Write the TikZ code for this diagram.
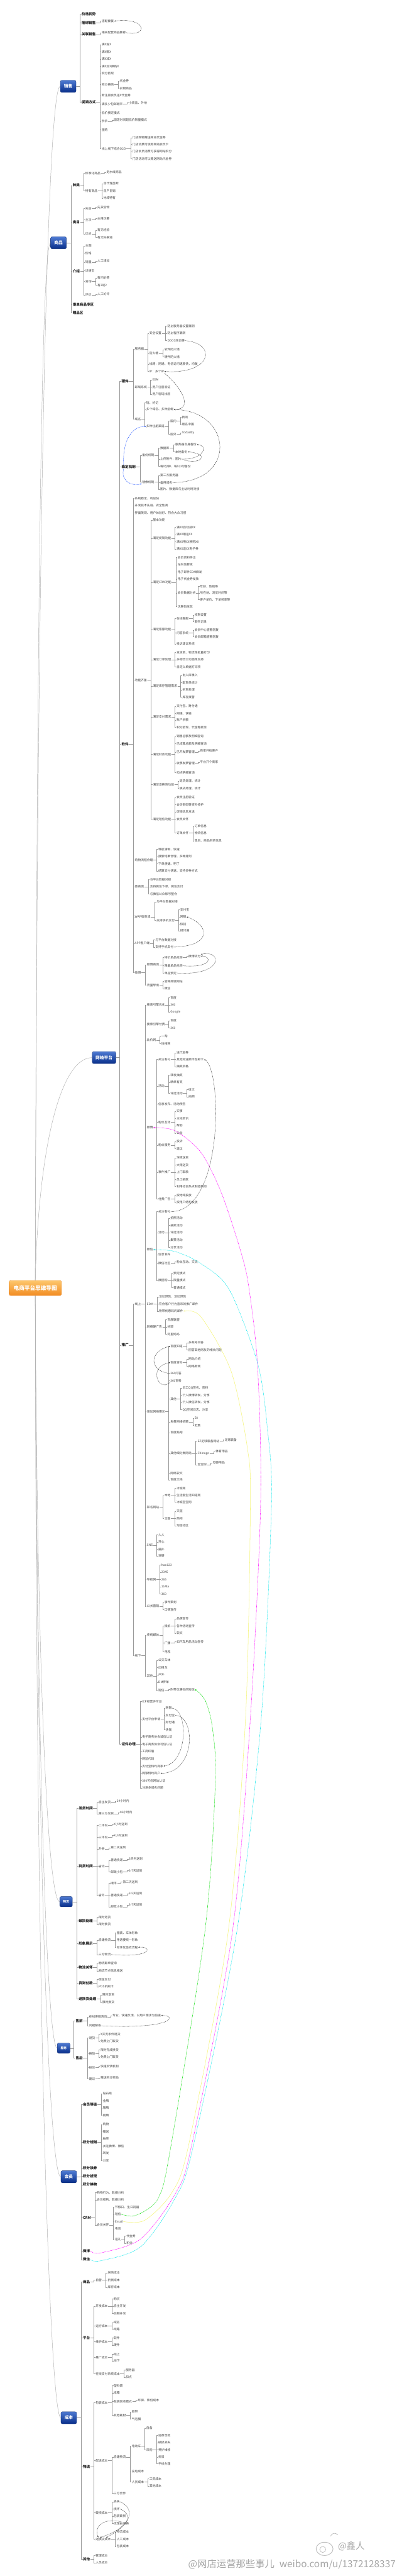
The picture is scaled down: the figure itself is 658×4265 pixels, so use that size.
\documentclass[tikz,border=0pt]{standalone}
\usepackage{fontspec}
\setmainfont{Noto Sans CJK SC}
\usetikzlibrary{arrows.meta}
\definecolor{tpA}{RGB}{78,122,210}
\definecolor{tpB}{RGB}{8,46,138}
\definecolor{tpC}{RGB}{22,52,120}
\definecolor{orA}{RGB}{253,198,108}
\definecolor{orB}{RGB}{242,140,34}
\definecolor{orC}{RGB}{230,130,30}
\definecolor{mgC}{RGB}{255,0,255}
\definecolor{cyC}{RGB}{0,230,235}
\definecolor{gnC}{RGB}{0,220,0}
\definecolor{ylC}{RGB}{245,245,120}
\definecolor{blC}{RGB}{40,90,255}
\newcommand\mmT[4]{\node[mt] (#1) at (#2,#3) {#4};}
\newcommand\mmB[4]{\node[mb] (#1) at (#2,#3) {#4};}
\newcommand\mmC[2]{\foreach \q in {#2}{\draw[ln] (#1.east) -| ([xshift=-2.5pt]\q.west) -- (\q.west);}}
\tikzset{
 mt/.style={anchor=west,inner sep=0.4pt,text=black!75,font=\fontsize{5}{5}\selectfont},
 mb/.style={anchor=west,inner sep=0.4pt,text=black!90,font=\fontsize{5.8}{5.8}\selectfont\bfseries},
 ln/.style={draw=black!40,line width=0.35pt},
 rl/.style={draw=black!30,line width=0.5pt},
 topic/.style={rounded corners=2.5pt,top color=tpA,bottom color=tpB,draw=tpC,line width=0.4pt,text=white,font=\fontsize{7}{7}\selectfont\bfseries,minimum width=26pt,minimum height=20pt,inner sep=1pt},
 stopic/.style={topic,minimum width=21pt,minimum height=17pt,font=\fontsize{5}{5}\selectfont\bfseries},
 rootbox/.style={rounded corners=3pt,top color=orA,bottom color=orB,draw=orC,line width=0.4pt,text=white,font=\fontsize{9}{9}\selectfont\bfseries,minimum width=87pt,minimum height=25pt,inner sep=1pt},
 dd/.style={draw=black!75,dash pattern=on 1.2pt off 0.8pt,line width=0.5pt,-{Stealth[length=2.6pt,width=2.2pt]}},
 bd/.style={dd,draw=blC},
 cd/.style={dash pattern=on 1.2pt off 0.8pt,line width=0.55pt,-{Stealth[length=2.8pt,width=2.4pt]}},
}
\begin{document}
\begin{tikzpicture}[x=1pt,y=-1pt]
\fill[white] (0,0) rectangle (658,4265);
\useasboundingbox (0,0) rectangle (658,4265);
% ---------- root and topics ----------
\node[rootbox] (root) at (58.5,2132.5) {电商平台思维导图};
\node[topic] (xs) at (113,143) {销售};
\node[topic] (xg) at (97,402) {商品};
\node[topic,minimum width=39pt] (xn) at (172.5,1751) {网络平台};
\node[stopic] (xw) at (109.5,3148.5) {物流};
\node[stopic] (xv) at (105.5,3391) {服务};
\node[topic] (xh) at (114,3604) {会员};
\node[topic] (xc) at (114,4003) {成本};
% ---------- 销售 ----------
\mmB{s1}{135}{23}{价格优势}
\mmB{s2}{135}{38}{捆绑销售}
\mmB{s3}{135}{57}{关联销售}
\mmB{s4}{135}{169}{促销方式}
\mmT{s21}{168}{35}{搭配套餐}
\mmT{s31}{168}{54}{相关配套商品推荐}
\mmT{s41}{168}{74}{满X返X}
\mmT{s42}{168}{86}{满X赠X}
\mmT{s43}{168}{98}{满X减X}
\mmT{s44}{168}{110}{满X加X换购X}
\mmT{s45}{168}{122}{积分抵现}
\mmT{s46}{168}{140}{积分换购}
\mmT{s461}{198}{134}{代金券}
\mmT{s462}{198}{146}{实物商品}
\mmT{s47}{168}{158}{新注册会员送X代金券}
\mmT{s48}{168}{172}{满多少包邮顺丰}
\mmT{s481}{213}{170}{小商品、外地}
\mmT{s49}{168}{187}{低价预定模式}
\mmT{s4a}{168}{201}{秒杀}
\mmT{s4a1}{188}{199}{固定时间超低价限量模式}
\mmT{s4b}{168}{215}{团购}
\mmT{s4c}{168}{246}{线上线下结合O2O}
\mmT{s4c1}{219}{228}{门店购物赠送网站代金券}
\mmT{s4c2}{219}{239}{门店消费可使用网站会员卡}
\mmT{s4c3}{219}{251}{门店会员消费可获得网站积分}
\mmT{s4c4}{219}{263}{门店活动可以赠送网站代金券}
% ---------- 商品 ----------
\mmB{g1}{120}{307}{种类}
\mmB{g2}{120}{368}{类目}
\mmB{g3}{120}{449}{介绍}
\mmB{g4}{120}{504}{凑单商品专区}
\mmB{g5}{120}{518}{赠品区}
\mmT{g11}{141}{287}{标准化商品}
\mmT{g111}{176}{285}{走水线商品}
\mmT{g12}{141}{316}{特有商品}
\mmT{g121}{171}{304}{自代理垄断}
\mmT{g122}{171}{316}{自产自销}
\mmT{g123}{171}{328}{地域特有}
\mmT{g21}{141}{345}{先后}
\mmT{g211}{161}{343}{先货后物}
\mmT{g22}{141}{364}{主次}
\mmT{g221}{161}{362}{主推次要}
\mmT{g23}{141}{387}{优劣}
\mmT{g231}{161}{381}{有无经验}
\mmT{g232}{161}{393}{有无好渠道}
\mmT{g31}{141}{407}{主图}
\mmT{g32}{141}{419}{价格}
\mmT{g33}{141}{434}{销量}
\mmT{g331}{161}{432}{人工增加}
\mmT{g34}{141}{448}{详情页}
\mmT{g35}{141}{466}{咨询}
\mmT{g351}{161}{460}{有问必答}
\mmT{g352}{161}{472}{有2说2}
\mmT{g36}{141}{488}{评价}
\mmT{g361}{161}{487}{人工好评}
% ---------- 网络平台 ----------
\mmB{n1}{201}{631}{硬件}
\mmB{n2}{201}{773}{稳定机制}
\mmB{n3}{201}{1232}{软件}
\mmB{n4}{201}{2227}{推广}
\mmB{n5}{201}{2888}{证件办理}
\mmT{n11}{223}{578}{服务器}
\mmT{n12}{223}{641}{邮局系统}
\mmT{n13}{223}{694}{域名}
\mmT{n111}{247}{552}{安全设置}
\mmT{n1111}{277}{540}{防止服务器设置漏洞}
\mmT{n1112}{277}{552}{防止程序漏洞}
\mmT{n1113}{277}{564}{DDOS攻击等}
\mmT{n112}{247}{585}{防火墙}
\mmT{n1121}{272}{579}{软件防火墙}
\mmT{n1122}{272}{591}{硬件防火墙}
\mmT{n113}{247}{603}{线路：网通、电信访问速度快，均衡}
\mmT{n114}{247}{615}{IP：多个IP}
\mmT{n121}{252}{629}{EDM}
\mmT{n122}{252}{641}{用户注册验证}
\mmT{n123}{252}{653}{用户密码找回}
\mmT{n131}{242}{667}{短、好记}
\mmT{n132}{242}{678}{多个域名、多种后缀}
\mmT{n133}{242}{706}{多种注册渠道}
\mmT{n1331}{282}{697}{国内}
\mmT{n13311}{301}{691}{新网}
\mmT{n13312}{301}{703}{易名中国}
\mmT{n1332}{282}{719}{国外}
\mmT{n13321}{301}{717}{Todaddy}
\mmT{n21}{235}{754}{备份机制}
\mmT{n22}{235}{798}{镜像机制}
\mmT{n211}{265}{742}{数据库}
\mmT{n2111}{290}{736}{服务器自身备份}
\mmT{n2112}{290}{748}{本地备份}
\mmT{n212}{265}{760}{上传附件：图片}
\mmT{n213}{265}{772}{每X分钟、每X小时备份}
\mmT{n221}{265}{787}{第三方服务器}
\mmT{n222}{265}{799}{备用域名}
\mmT{n223}{265}{810}{图片、数据库与主站时时对接}
\mmT{n31}{223}{825}{系统稳定、响应快}
\mmT{n32}{223}{837}{开发技术先进、安全性高}
\mmT{n33}{223}{849}{界面美观、用户体验好、符合大众习惯}
\mmT{n34}{223}{1126}{功能齐备}
\mmT{n35}{223}{1424}{购物流程合理}
\mmT{n36}{223}{1468}{微商城}
\mmT{n37}{223}{1518}{WAP版商城}
\mmT{n38}{223}{1562}{APP客户端}
\mmT{n39}{223}{1610}{微博}
\mmT{f1}{253}{861}{基本功能}
\mmT{f2}{253}{891}{满足促销功能}
\mmT{f21}{292}{873}{满XX自动减XX}
\mmT{f22}{292}{885}{满XX赠送XX}
\mmT{f23}{292}{897}{满XX用XX换购XX}
\mmT{f24}{292}{909}{满XX送XX电子券}
\mmT{f3}{253}{964}{满足CRM功能}
\mmT{f31}{294}{923}{会员资料导出}
\mmT{f32}{294}{935}{站内信群发}
\mmT{f33}{294}{947}{电子邮件EDM群发}
\mmT{f34}{294}{959}{电子代金券发放}
\mmT{f35}{294}{982}{会员数据分析}
\mmT{f351}{331}{971}{年龄、性别等}
\mmT{f352}{331}{982}{所在地、浏览时间等}
\mmT{f353}{331}{993}{客户单价、下单频率等}
\mmT{f36}{294}{1004}{优惠码发放}
\mmT{f4}{253}{1042}{满足客服功能}
\mmT{f41}{292}{1024}{在线客服}
\mmT{f411}{322}{1018}{权限设置}
\mmT{f412}{322}{1029}{聊天记录}
\mmT{f42}{292}{1048}{问答系统}
\mmT{f421}{322}{1043}{会员中心查看回复}
\mmT{f422}{322}{1054}{会员邮箱查看回复}
\mmT{f43}{292}{1066}{投诉建议系统}
\mmT{f5}{253}{1092}{满足订单处理}
\mmT{f51}{292}{1080}{发货单、物流单批量打印}
\mmT{f52}{292}{1092}{多物流公司面单支持}
\mmT{f53}{292}{1104}{自定义单据打印项}
\mmT{f6}{253}{1136}{满足库存管理需求}
\mmT{f61}{302}{1118}{出入库录入}
\mmT{f62}{302}{1130}{配货单统计}
\mmT{f63}{302}{1142}{拆货处理}
\mmT{f64}{302}{1154}{库存报警}
\mmT{f7}{253}{1187}{满足支付需求}
\mmT{f71}{292}{1169}{支付宝、财付通}
\mmT{f72}{292}{1181}{网银、快钱}
\mmT{f73}{292}{1192}{账户余额}
\mmT{f74}{292}{1204}{积分抵现、代金券抵现}
\mmT{f8}{253}{1249}{满足财务功能}
\mmT{f81}{292}{1219}{销售总额及明细查询}
\mmT{f82}{292}{1231}{已结算总额及明细查询}
\mmT{f83}{292}{1245}{已开发票管理}
\mmT{f831}{331}{1243}{商家开给客户}
\mmT{f84}{292}{1264}{收票发票管理}
\mmT{f841}{331}{1262}{平台开个商家}
\mmT{f85}{292}{1279}{扣点明细查询}
\mmT{f9}{253}{1299}{满足退换货功能}
\mmT{f91}{297}{1293}{退货处理、统计}
\mmT{f92}{297}{1305}{换货处理、统计}
\mmT{fa}{253}{1356}{满足短信功能}
\mmT{fa1}{292}{1320}{会员注册验证}
\mmT{fa2}{292}{1332}{会员密码等资料修护}
\mmT{fa3}{292}{1344}{促销信息发送}
\mmT{fa4}{292}{1356}{会员关怀}
\mmT{fa5}{292}{1379}{订单关怀}
\mmT{fa51}{322}{1368}{订单信息}
\mmT{fa52}{322}{1379}{物流信息}
\mmT{fa53}{322}{1392}{售后、商品到货信息}
\mmT{n351}{262}{1406}{导航清晰、快速}
\mmT{n352}{262}{1418}{搜索结果合理、多种排列}
\mmT{n353}{262}{1430}{下单便捷、明了}
\mmT{n354}{262}{1442}{结算支付快速、支持多种方式}
\mmT{n361}{248}{1456}{与平台数据对接}
\mmT{n362}{248}{1468}{支持微信下单、微信支付}
\mmT{n363}{248}{1480}{与微信公众账号整合}
\mmT{n371}{259}{1493}{与平台数据对接}
\mmT{n372}{259}{1524}{支持手机支付}
\mmT{n3721}{298}{1506}{支付宝}
\mmT{n3722}{298}{1518}{网银}
\mmT{n3723}{298}{1530}{快钱}
\mmT{n3724}{298}{1541}{财付通}
\mmT{n381}{257}{1556}{与平台数据对接}
\mmT{n382}{257}{1568}{支持手机支付}
\mmT{n391}{243}{1597}{微博商城}
\mmT{n3911}{272}{1585}{特价单品抢购}
\mmT{n39111}{312}{1583}{微博支付}
\mmT{n3912}{272}{1599}{限量单品抢购}
\mmT{n3913}{272}{1611}{单品预定}
\mmT{n392}{243}{1631}{流量导出}
\mmT{n3921}{272}{1625}{官网商城网站}
\mmT{n3922}{272}{1637}{微信}
% 推广
\mmT{p1}{223}{2159}{线上}
\mmT{p2}{223}{2741}{线下}
\mmT{p11}{243}{1664}{搜索引擎优化}
\mmT{p111}{282}{1652}{百度}
\mmT{p112}{282}{1664}{360}
\mmT{p113}{282}{1676}{Google}
\mmT{p12}{243}{1696}{搜索引擎付费}
\mmT{p121}{282}{1690}{百度}
\mmT{p122}{282}{1702}{360}
\mmT{p13}{243}{1722}{比价网}
\mmT{p131}{267}{1716}{一淘}
\mmT{p132}{267}{1728}{快搜网}
\mmT{p14}{243}{1867}{微博}
\mmT{p141}{262}{1754}{关注有礼}
\mmT{p1411}{292}{1743}{送代金券}
\mmT{p1412}{292}{1754}{其他如送顺丰包邮卡}
\mmT{p1413}{292}{1766}{抽奖资格}
\mmT{p142}{262}{1798}{活动}
\mmT{p1421}{282}{1780}{转发抽奖}
\mmT{p1422}{282}{1792}{晒单有奖}
\mmT{p1423}{282}{1810}{评选活动}
\mmT{p14231}{312}{1804}{征文}
\mmT{p14232}{312}{1816}{拍照}
\mmT{p143}{262}{1828}{信息发布、活动预告}
\mmT{p144}{262}{1858}{粉丝互动}
\mmT{p1441}{292}{1840}{实事}
\mmT{p1442}{292}{1852}{本地资讯}
\mmT{p1443}{292}{1864}{帮助}
\mmT{p1444}{292}{1876}{公益}
\mmT{p145}{262}{1896}{粉丝服务}
\mmT{p1451}{292}{1890}{投诉}
\mmT{p1452}{292}{1902}{建议}
\mmT{p146}{262}{1941}{事件推广}
\mmT{p1461}{292}{1917}{深夜送货}
\mmT{p1462}{292}{1929}{大雨送货}
\mmT{p1463}{292}{1941}{上门取款}
\mmT{p1464}{292}{1953}{员工捐款}
\mmT{p1465}{292}{1964}{利用社会热点制造新闻}
\mmT{p147}{262}{1985}{付费广告}
\mmT{p1471}{292}{1979}{按地域投放}
\mmT{p1472}{292}{1991}{按用户结构投放}
\mmT{p15}{243}{2069}{微信}
\mmT{p151}{262}{2006}{关注有礼}
\mmT{p152}{262}{2041}{活动}
\mmT{p1521}{282}{2017}{拍照活动}
\mmT{p1522}{282}{2029}{抽奖活动}
\mmT{p1523}{282}{2041}{评选活动}
\mmT{p1524}{282}{2053}{集赞活动}
\mmT{p1525}{282}{2065}{分享活动}
\mmT{p153}{262}{2077}{信息发布}
\mmT{p154}{262}{2092}{微信社区}
\mmT{p1541}{292}{2089}{粉丝互动、交流}
\mmT{p155}{262}{2120}{微团购}
\mmT{p1551}{287}{2108}{预定模式}
\mmT{p1552}{287}{2120}{限量模式}
\mmT{p1553}{287}{2132}{普通模式}
\mmT{p16}{243}{2159}{EDM}
\mmT{p161}{263}{2147}{活动预告、活动预告}
\mmT{p162}{263}{2159}{符合客户行为喜欢的推广邮件}
\mmT{p163}{263}{2171}{附带优惠码的邮件}
\mmT{p17}{243}{2197}{网络硬广告}
\mmT{p171}{277}{2185}{百度联盟}
\mmT{p172}{277}{2197}{好耶}
\mmT{p173}{277}{2209}{阿里妈妈}
\mmT{p18}{243}{2337}{增加网络曝光}
\mmT{p181}{282}{2229}{百度知道}
\mmT{p1811}{312}{2223}{多账号问答}
\mmT{p1812}{312}{2235}{回答其他网友的相关问题}
\mmT{p182}{282}{2256}{百度百科}
\mmT{p1821}{312}{2250}{网站介绍}
\mmT{p1822}{312}{2262}{网络新闻}
\mmT{p183}{282}{2274}{360问答}
\mmT{p184}{282}{2286}{360百科}
\mmT{p185}{282}{2316}{其他}
\mmT{p1851}{302}{2298}{员工QQ签名、资料}
\mmT{p1852}{302}{2310}{个人微博转发、分享}
\mmT{p1853}{302}{2322}{个人微信转发、分享}
\mmT{p1854}{302}{2334}{QQ空间日志、分享}
\mmT{p186}{282}{2354}{免费网络招聘}
\mmT{p1861}{322}{2348}{58}
\mmT{p1862}{322}{2360}{赶集}
\mmT{p187}{282}{2372}{百度贴吧}
\mmT{p188}{282}{2406}{其他细分类网站}
\mmT{p1881}{327}{2386}{EZ足球装备网站}
\mmT{p18811}{372}{2384}{足球装备}
\mmT{p1882}{327}{2406}{Chinago}
\mmT{p18821}{357}{2403}{体育用品}
\mmT{p1883}{327}{2425}{宝宝树}
\mmT{p18831}{352}{2422}{母婴用品}
\mmT{p189}{282}{2439}{网络软文}
\mmT{p18a}{282}{2450}{百度文档}
\mmT{p19}{243}{2495}{知名网站}
\mmT{p191}{272}{2476}{本地}
\mmT{p1911}{292}{2464}{冰城网}
\mmT{p1912}{292}{2476}{生活报生活知道网}
\mmT{p1913}{292}{2487}{冰城宝宝网}
\mmT{p192}{272}{2514}{全国}
\mmT{p1921}{292}{2502}{天涯}
\mmT{p1922}{292}{2514}{西祠}
\mmT{p1923}{292}{2526}{淘宝社区}
\mmT{p1a}{243}{2558}{SNS}
\mmT{p1a1}{262}{2541}{人人}
\mmT{p1a2}{262}{2553}{开心}
\mmT{p1a3}{262}{2565}{猫扑}
\mmT{p1a4}{262}{2576}{豆瓣}
\mmT{p1b}{243}{2615}{导航网}
\mmT{p1b1}{267}{2591}{hao123}
\mmT{p1b2}{267}{2603}{2345}
\mmT{p1b3}{267}{2615}{265}
\mmT{p1b4}{267}{2627}{114la}
\mmT{p1b5}{267}{2639}{360}
\mmT{p1c}{243}{2659}{公关营销}
\mmT{p1c1}{272}{2653}{事件策划}
\mmT{p1c2}{272}{2665}{口碑宣传}
\mmT{p21}{243}{2707}{传统媒体}
\mmT{p211}{272}{2692}{报纸}
\mmT{p2111}{292}{2680}{品牌宣传}
\mmT{p2112}{292}{2692}{各种活动宣传}
\mmT{p2113}{292}{2704}{软文}
\mmT{p212}{272}{2720}{广播}
\mmT{p2121}{292}{2718}{如汽车用品活动宣传}
\mmT{p213}{272}{2735}{电视}
\mmT{p22}{243}{2775}{其他}
\mmT{p221}{262}{2749}{公交车体}
\mmT{p222}{262}{2761}{出租车}
\mmT{p223}{262}{2773}{户外}
\mmT{p224}{262}{2785}{DM传单}
\mmT{p225}{262}{2799}{短信}
\mmT{p2251}{282}{2797}{附带优惠码的短信}
% 证件办理
\mmT{z1}{235}{2817}{ICP经营许可证}
\mmT{z2}{235}{2846}{支付平台申请}
\mmT{z21}{274}{2828}{网银}
\mmT{z22}{274}{2840}{支付宝}
\mmT{z23}{274}{2852}{财付通}
\mmT{z24}{274}{2864}{快钱}
\mmT{z3}{235}{2876}{电子商务协会诚信认证}
\mmT{z4}{235}{2888}{电子商务协会可信认证}
\mmT{z5}{235}{2900}{工商红盾}
\mmT{z6}{235}{2912}{网监代码}
\mmT{z7}{235}{2924}{支付宝特约商家}
\mmT{z8}{235}{2936}{网银特约商户}
\mmT{z9}{235}{2948}{360可信网站认证}
\mmT{za}{235}{2960}{注意多域名问题}
% ---------- 物流 ----------
\mmB{w1}{130}{2994}{发货时间}
\mmB{w2}{130}{3090}{到货时间}
\mmB{w3}{130}{3180}{破损处理}
\mmB{w4}{130}{3218}{形象展示}
\mmB{w5}{130}{3257}{物流关怀}
\mmB{w6}{130}{3283}{货到付款}
\mmB{w7}{130}{3309}{退换货处理}
\mmT{w11}{163}{2984}{自主发货}
\mmT{w111}{193}{2982}{24小时内}
\mmT{w12}{163}{3003}{第三方发货}
\mmT{w121}{198}{3001}{48小时内}
\mmT{w21}{163}{3022}{二环内}
\mmT{w211}{188}{3020}{X小时送到}
\mmT{w22}{163}{3042}{三环内}
\mmT{w221}{188}{3039}{X小时送到}
\mmT{w23}{163}{3061}{外县}
\mmT{w231}{183}{3059}{第二天送到}
\mmT{w24}{163}{3090}{省内}
\mmT{w241}{183}{3080}{普通快递}
\mmT{w2411}{213}{3078}{3天内送到}
\mmT{w242}{183}{3099}{邮政小包}
\mmT{w2421}{213}{3097}{3-7天送到}
\mmT{w25}{163}{3138}{省外}
\mmT{w251}{183}{3118}{顺丰}
\mmT{w2511}{203}{3116}{第二天送到}
\mmT{w252}{183}{3138}{普通快递}
\mmT{w2521}{213}{3135}{3-5天送到}
\mmT{w253}{183}{3157}{邮政小包}
\mmT{w2531}{213}{3154}{3-7天送到}
\mmT{w31}{163}{3174}{限时退货}
\mmT{w32}{163}{3186}{限时换货}
\mmT{w41}{163}{3212}{自建物流}
\mmT{w411}{193}{3200}{服装、车体形象}
\mmT{w412}{193}{3212}{用语要统一形象}
\mmT{w413}{193}{3224}{标准化签收流程}
\mmT{w42}{163}{3236}{三方物流}
\mmT{w51}{163}{3250}{物流跟单查询}
\mmT{w52}{163}{3263}{物流节点信息推送}
\mmT{w61}{163}{3277}{现金支付}
\mmT{w62}{163}{3289}{POS机刷卡}
\mmT{w71}{169}{3303}{限时退货}
\mmT{w72}{169}{3315}{限时换货}
% ---------- 服务 ----------
\mmB{v1}{125}{3346}{售前}
\mmB{v2}{125}{3407}{售后}
\mmT{v11}{147}{3339}{在线客服咨询}
\mmT{v111}{186}{3337}{专业、快速反馈、以用户需求为前提}
\mmT{v12}{147}{3354}{问题解答}
\mmT{v21}{147}{3374}{退货}
\mmT{v211}{166}{3368}{X天无条件退货}
\mmT{v212}{166}{3380}{免费上门取货}
\mmT{v22}{147}{3400}{换货}
\mmT{v221}{166}{3394}{限时完成换货}
\mmT{v222}{166}{3406}{免费上门取货}
\mmT{v23}{147}{3423}{投诉}
\mmT{v231}{166}{3421}{快速反馈机制}
\mmT{v24}{147}{3442}{建议}
\mmT{v241}{166}{3440}{赠送积分奖励}
% ---------- 会员 ----------
\mmB{h1}{137}{3484}{会员等级}
\mmB{h2}{137}{3547}{积分规则}
\mmB{h3}{137}{3590}{积分换券}
\mmB{h4}{137}{3603}{积分抵现}
\mmB{h5}{137}{3617}{积分换物}
\mmB{h6}{137}{3672}{CRM}
\mmB{h7}{137}{3727}{微博}
\mmB{h8}{137}{3741}{微信}
\mmT{h11}{170}{3466}{钻石级}
\mmT{h12}{170}{3478}{金牌}
\mmT{h13}{170}{3490}{银牌}
\mmT{h14}{170}{3502}{铜牌}
\mmT{h21}{170}{3517}{购物}
\mmT{h22}{170}{3529}{赠送}
\mmT{h23}{170}{3541}{抽奖}
\mmT{h24}{170}{3553}{关注微博、微信}
\mmT{h25}{170}{3565}{转发}
\mmT{h26}{170}{3577}{分享}
\mmT{h61}{160}{3630}{购物行为、数据分析}
\mmT{h62}{160}{3642}{会员结构、数据分析}
\mmT{h63}{160}{3684}{会员关怀}
\mmT{h631}{190}{3654}{节假日、生日祝福}
\mmT{h632}{190}{3666}{短信}
\mmT{h633}{190}{3678}{Email}
\mmT{h634}{190}{3690}{电话}
\mmT{h635}{190}{3708}{送礼}
\mmT{h6351}{209}{3702}{代金券}
\mmT{h6352}{209}{3714}{积分}
% ---------- 成本 ----------
\mmB{c1}{137}{3778}{商品}
\mmB{c2}{137}{3871}{平台}
\mmB{c3}{137}{4084}{物流}
\mmB{c4}{137}{4237}{其他}
\mmT{c11}{158}{3775}{自营}
\mmT{c111}{178}{3763}{采购成本}
\mmT{c112}{178}{3775}{折损成本}
\mmT{c113}{178}{3787}{库存成本}
\mmT{c21}{158}{3818}{开发成本}
\mmT{c211}{188}{3806}{购买}
\mmT{c212}{188}{3818}{自主开发}
\mmT{c213}{188}{3830}{后期开发}
\mmT{c22}{158}{3851}{运行成本}
\mmT{c221}{188}{3845}{域名}
\mmT{c222}{188}{3856}{线路}
\mmT{c23}{158}{3877}{维护成本}
\mmT{c231}{188}{3871}{软件}
\mmT{c232}{188}{3883}{硬件}
\mmT{c24}{158}{3903}{推广成本}
\mmT{c241}{188}{3898}{线上}
\mmT{c242}{188}{3909}{线下}
\mmT{c25}{158}{3930}{在线支付系统成本}
\mmT{c251}{208}{3924}{服务器}
\mmT{c252}{208}{3936}{扣点}
\mmT{c31}{158}{3978}{包装成本}
\mmT{c311}{188}{3950}{塑料袋}
\mmT{c312}{188}{3962}{纸箱}
\mmT{c313}{188}{3976}{包装回收模式}
\mmT{c3131}{228}{3974}{环保、降低成本}
\mmT{c314}{188}{3999}{其他耗材}
\mmT{c3141}{218}{3993}{胶带}
\mmT{c3142}{218}{4005}{气泡膜}
\mmT{c32}{158}{4074}{配送成本}
\mmT{c321}{188}{4068}{自建物流}
\mmT{c3211}{218}{4050}{电动车}
\mmT{c32111}{242}{4020}{自备}
\mmT{c32112}{242}{4056}{采购}
\mmT{c321121}{262}{4032}{违章罚款}
\mmT{c321122}{262}{4044}{破损丢失}
\mmT{c321123}{262}{4056}{养护维修}
\mmT{c321124}{262}{4068}{折旧}
\mmT{c321125}{262}{4079}{手续办理}
\mmT{c3212}{218}{4092}{充电成本}
\mmT{c3213}{218}{4109}{人员成本}
\mmT{c32131}{247}{4104}{工资成本}
\mmT{c32132}{247}{4116}{其他成本}
\mmT{c322}{188}{4128}{三方合作}
\mmT{c33}{158}{4160}{破损成本}
\mmT{c331}{188}{4142}{丢失}
\mmT{c332}{188}{4154}{损坏}
\mmT{c333}{188}{4166}{包装破损}
\mmT{c334}{188}{4178}{无理由退换}
\mmT{c34}{158}{4204}{退换货成本}
\mmT{c341}{193}{4192}{物流成本}
\mmT{c342}{193}{4204}{人工成本}
\mmT{c343}{193}{4216}{包装成本}
\mmT{c41}{158}{4231}{管理成本}
\mmT{c42}{158}{4243}{人员成本}
% ---------- watermark ----------
\node[anchor=west,inner sep=0pt,text=black!35,font=\fontsize{15}{15}\selectfont] (wm2) at (560,4216) {@鑫人};
\node[anchor=east,inner sep=0pt,text=black!35,font=\fontsize{16}{16}\selectfont] (wm) at (656,4246) {@网店运营那些事儿\hspace{8pt}weibo.com/u/1372128337};
\draw[black!25,line width=1pt] (538,4220) ellipse (14 and 11);
\draw[black!25,line width=0.8pt] (535,4221) circle (5);
\draw[black!25,line width=0.8pt] (548,4199) arc (200:320:7);
% ---------- root connectors ----------
\draw[rl] (root.north) .. controls (62,900) and (78,143) .. (xs.west);
\draw[rl] (root.north) .. controls (61,1100) and (68,402) .. (xg.west);
\draw[rl] (root.north) .. controls (64,1900) and (100,1751) .. (xn.west);
\draw[rl] (root.south) .. controls (62,2800) and (80,3148) .. (xw.west);
\draw[rl] (root.south) .. controls (61,2900) and (78,3391) .. (xv.west);
\draw[rl] (root.south) .. controls (61,3100) and (82,3604) .. (xh.west);
\draw[rl] (root.south) .. controls (60,3400) and (84,4003) .. (xc.west);
% ---------- tree connectors ----------
\mmC{xs}{s1,s2,s3,s4}
\mmC{s2}{s21}\mmC{s3}{s31}
\mmC{s4}{s41,s42,s43,s44,s45,s46,s47,s48,s49,s4a,s4b,s4c}
\mmC{s46}{s461,s462}\mmC{s48}{s481}\mmC{s4a}{s4a1}\mmC{s4c}{s4c1,s4c2,s4c3,s4c4}
\mmC{xg}{g1,g2,g3,g4,g5}
\mmC{g1}{g11,g12}\mmC{g11}{g111}\mmC{g12}{g121,g122,g123}
\mmC{g2}{g21,g22,g23}\mmC{g21}{g211}\mmC{g22}{g221}\mmC{g23}{g231,g232}
\mmC{g3}{g31,g32,g33,g34,g35,g36}\mmC{g33}{g331}\mmC{g35}{g351,g352}\mmC{g36}{g361}
\mmC{xn}{n1,n2,n3,n4,n5}
\mmC{n1}{n11,n12,n13}\mmC{n11}{n111,n112,n113,n114}\mmC{n111}{n1111,n1112,n1113}
\mmC{n112}{n1121,n1122}\mmC{n12}{n121,n122,n123}\mmC{n13}{n131,n132,n133}
\mmC{n133}{n1331,n1332}\mmC{n1331}{n13311,n13312}\mmC{n1332}{n13321}
\mmC{n2}{n21,n22}\mmC{n21}{n211,n212,n213}\mmC{n211}{n2111,n2112}\mmC{n22}{n221,n222,n223}
\mmC{n3}{n31,n32,n33,n34,n35,n36,n37,n38,n39}
\mmC{n34}{f1,f2,f3,f4,f5,f6,f7,f8,f9,fa}
\mmC{f2}{f21,f22,f23,f24}\mmC{f3}{f31,f32,f33,f34,f35,f36}\mmC{f35}{f351,f352,f353}
\mmC{f4}{f41,f42,f43}\mmC{f41}{f411,f412}\mmC{f42}{f421,f422}
\mmC{f5}{f51,f52,f53}\mmC{f6}{f61,f62,f63,f64}\mmC{f7}{f71,f72,f73,f74}
\mmC{f8}{f81,f82,f83,f84,f85}\mmC{f83}{f831}\mmC{f84}{f841}\mmC{f9}{f91,f92}
\mmC{fa}{fa1,fa2,fa3,fa4,fa5}\mmC{fa5}{fa51,fa52,fa53}
\mmC{n35}{n351,n352,n353,n354}\mmC{n36}{n361,n362,n363}\mmC{n37}{n371,n372}
\mmC{n372}{n3721,n3722,n3723,n3724}\mmC{n38}{n381,n382}\mmC{n39}{n391,n392}
\mmC{n391}{n3911,n3912,n3913}\mmC{n3911}{n39111}\mmC{n392}{n3921,n3922}
\mmC{n4}{p1,p2}
\mmC{p1}{p11,p12,p13,p14,p15,p16,p17,p18,p19,p1a,p1b,p1c}
\mmC{p11}{p111,p112,p113}\mmC{p12}{p121,p122}\mmC{p13}{p131,p132}
\mmC{p14}{p141,p142,p143,p144,p145,p146,p147}\mmC{p141}{p1411,p1412,p1413}
\mmC{p142}{p1421,p1422,p1423}\mmC{p1423}{p14231,p14232}\mmC{p144}{p1441,p1442,p1443,p1444}
\mmC{p145}{p1451,p1452}\mmC{p146}{p1461,p1462,p1463,p1464,p1465}\mmC{p147}{p1471,p1472}
\mmC{p15}{p151,p152,p153,p154,p155}\mmC{p152}{p1521,p1522,p1523,p1524,p1525}
\mmC{p154}{p1541}\mmC{p155}{p1551,p1552,p1553}
\mmC{p16}{p161,p162,p163}\mmC{p17}{p171,p172,p173}
\mmC{p18}{p181,p182,p183,p184,p185,p186,p187,p188,p189,p18a}
\mmC{p181}{p1811,p1812}\mmC{p182}{p1821,p1822}\mmC{p185}{p1851,p1852,p1853,p1854}
\mmC{p186}{p1861,p1862}\mmC{p188}{p1881,p1882,p1883}\mmC{p1881}{p18811}
\mmC{p1882}{p18821}\mmC{p1883}{p18831}
\mmC{p19}{p191,p192}\mmC{p191}{p1911,p1912,p1913}\mmC{p192}{p1921,p1922,p1923}
\mmC{p1a}{p1a1,p1a2,p1a3,p1a4}\mmC{p1b}{p1b1,p1b2,p1b3,p1b4,p1b5}\mmC{p1c}{p1c1,p1c2}
\mmC{p2}{p21,p22}\mmC{p21}{p211,p212,p213}\mmC{p211}{p2111,p2112,p2113}\mmC{p212}{p2121}
\mmC{p22}{p221,p222,p223,p224,p225}\mmC{p225}{p2251}
\mmC{n5}{z1,z2,z3,z4,z5,z6,z7,z8,z9,za}\mmC{z2}{z21,z22,z23,z24}
\mmC{xw}{w1,w2,w3,w4,w5,w6,w7}
\mmC{w1}{w11,w12}\mmC{w11}{w111}\mmC{w12}{w121}
\mmC{w2}{w21,w22,w23,w24,w25}\mmC{w21}{w211}\mmC{w22}{w221}\mmC{w23}{w231}
\mmC{w24}{w241,w242}\mmC{w241}{w2411}\mmC{w242}{w2421}
\mmC{w25}{w251,w252,w253}\mmC{w251}{w2511}\mmC{w252}{w2521}\mmC{w253}{w2531}
\mmC{w3}{w31,w32}\mmC{w4}{w41,w42}\mmC{w41}{w411,w412,w413}
\mmC{w5}{w51,w52}\mmC{w6}{w61,w62}\mmC{w7}{w71,w72}
\mmC{xv}{v1,v2}\mmC{v1}{v11,v12}\mmC{v11}{v111}
\mmC{v2}{v21,v22,v23,v24}\mmC{v21}{v211,v212}\mmC{v22}{v221,v222}\mmC{v23}{v231}\mmC{v24}{v241}
\mmC{xh}{h1,h2,h3,h4,h5,h6,h7,h8}
\mmC{h1}{h11,h12,h13,h14}\mmC{h2}{h21,h22,h23,h24,h25,h26}
\mmC{h6}{h61,h62,h63}\mmC{h63}{h631,h632,h633,h634,h635}\mmC{h635}{h6351,h6352}
\mmC{xc}{c1,c2,c3,c4}
\mmC{c1}{c11}\mmC{c11}{c111,c112,c113}
\mmC{c2}{c21,c22,c23,c24,c25}\mmC{c21}{c211,c212,c213}\mmC{c22}{c221,c222}
\mmC{c23}{c231,c232}\mmC{c24}{c241,c242}\mmC{c25}{c251,c252}
\mmC{c3}{c31,c32,c33,c34}\mmC{c31}{c311,c312,c313,c314}\mmC{c313}{c3131}\mmC{c314}{c3141,c3142}
\mmC{c32}{c321,c322}\mmC{c321}{c3211,c3212,c3213}\mmC{c3211}{c32111,c32112}
\mmC{c32112}{c321121,c321122,c321123,c321124,c321125}\mmC{c3213}{c32131,c32132}
\mmC{c33}{c331,c332,c333,c334}\mmC{c34}{c341,c342,c343}
\mmC{c4}{c41,c42}
% ---------- dashed relations ----------
\draw[dd] (s31.east) .. controls (245,62) and (245,28) .. (s21.east);
\draw[dd] (n1113.east) .. controls (360,568) and (352,620) .. (n114.east);
\draw[dd] (n114.south east) .. controls (300,640) and (322,678) .. (n132.east);
\draw[dd] (n222.east) .. controls (395,798) and (385,680) .. (n132.east);
\draw[dd] (n212.east) .. controls (335,762) and (348,738) .. (n2111.east);
\draw[dd] (n212.east) .. controls (330,772) and (352,752) .. (n2112.east);
\draw[bd] ([xshift=4pt]n2.north west) .. controls (203,735) and (215,706) .. (n133.west);
\draw[bd] ([xshift=4pt]n2.south west) .. controls (200,794) and (215,806) .. (n22.south west);
\draw[dd] (n382.east) .. controls (355,1566) and (345,1530) .. (n3722.east);
\draw[dd] (n3912.east) .. controls (352,1603) and (352,1583) .. (n39111.east);
\draw[dd] (n3913.east) .. controls (372,1616) and (368,1572) .. (n39111.north east);
\draw[dd] (p151.east) .. controls (372,2006) and (368,1768) .. (p1412.east);
\draw[dd] (p183.west) .. controls (245,2270) and (248,2236) .. (p181.west);
\draw[dd] (p184.south west) .. controls (262,2306) and (245,2262) .. (p182.west);
\draw[dd] (z21.east) .. controls (312,2830) and (312,2918) .. (z7.east);
\draw[dd] (z22.east) .. controls (325,2840) and (325,2935) .. (z8.east);
\draw[dd] (w42.east) .. controls (255,3242) and (252,3222) .. (w413.east);
\draw[dd] (v12.east) .. controls (292,3360) and (292,3336) .. (v111.east);
\draw[dd] (c331.east) .. controls (228,4155) and (215,4186) .. ([xshift=8pt]c34.north west);
\draw[dd] (c332.east) .. controls (226,4166) and (205,4186) .. ([xshift=18pt]c34.north west);
\draw[dd] (c334.north) .. controls (170,4168) and (155,4184) .. ([xshift=5pt]c34.north west);
% ---------- coloured relations ----------
\draw[cd,draw=gnC] plot[smooth] coordinates {(h632.east) (225,3668) (262,3640) (283,3555) (340,3195) (357,2950) (352,2860) (340,2815) (p2251.east)};
\draw[line width=0.55pt,draw=ylC,-{Stealth[length=2.8pt,width=2.4pt]}] plot[smooth] coordinates {(h633.east) (240,3676) (285,3630) (313,3550) (378,3200) (407,2845) (415,2490) (410,2397) (383,2270) (333,2180) (p163.east)};
\draw[cd,draw=mgC] plot[smooth] coordinates {(h7.east) (167,3730) (233,3707) (290,3633) (317,3555) (385,3200) (415,2845) (432,2490) (427,2263) (413,2135) (400,2075) (367,1975) (333,1908) (290,1872) (p14.east)};
\draw[cd,draw=cyC] plot[smooth] coordinates {(h8.east) (167,3743) (233,3720) (290,3640) (320,3555) (393,3195) (433,2845) (450,2490) (443,2363) (427,2257) (380,2135) (333,2092) (290,2072) (p15.east)};
\end{tikzpicture}
\end{document}
